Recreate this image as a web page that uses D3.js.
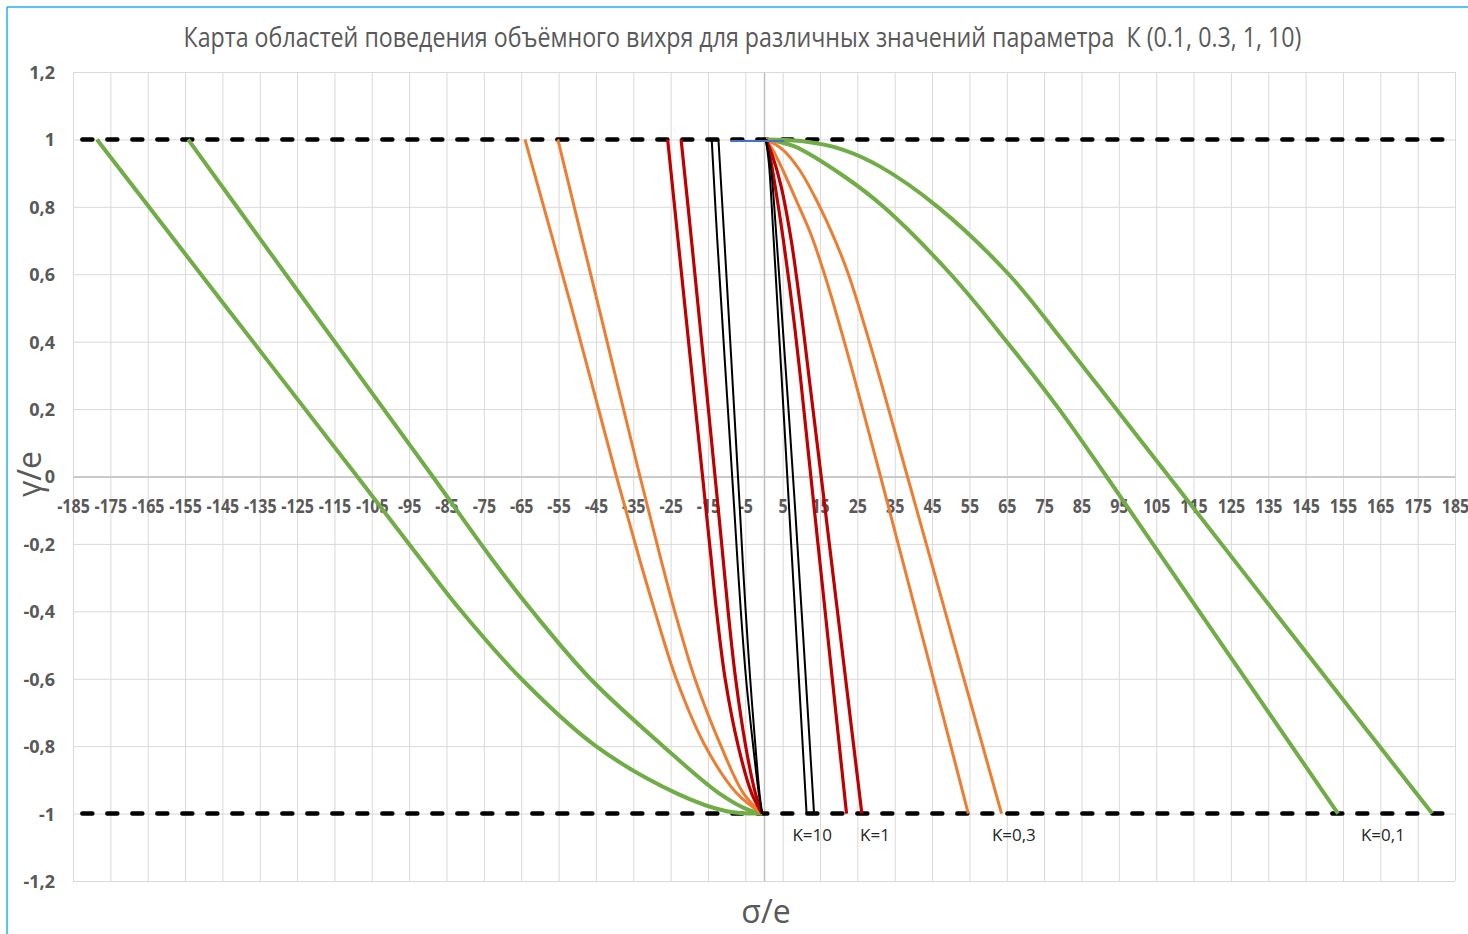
<!DOCTYPE html>
<html>
<head>
<meta charset="utf-8">
<script src="https://cdn.jsdelivr.net/npm/d3@7"></script>
<style>
	body { margin: 0; background: #ffffff; }
	svg { display: block; }
</style>
</head>
<body>
<div id="chart"></div>
<script>

// --- data ---
var xTicks = [-185,-175,-165,-155,-145,-135,-125,-115,-105,-95,-85,-75,-65,-55,-45,-35,-25,-15,-5,
	5,15,25,35,45,55,65,75,85,95,105,115,125,135,145,155,165,175,185];
var yTicks = [-1.2,-1,-0.8,-0.6,-0.4,-0.2,0,0.2,0.4,0.6,0.8,1,1.2];
var yTickLabels = ["-1,2","-1","-0,8","-0,6","-0,4","-0,2","0","0,2","0,4","0,6","0,8","1","1,2"];

// dashed limits gamma/e = 1 and -1
var limitLevels = [1, -1];
var limitFrom = -182.5;
var limitTo = 185;

// short blue segment on the upper limit
var blueSegment = [[-9, 0.995], [5.4, 0.995]];

// K = 0.1
var k01LeftOuter = [[-178.6,1],[-143.8,0.5],[-108.9,0],[-91.6,-0.25],[-81,-0.4],[-65,-0.6],[-45,-0.8],[-23.4,-0.94],[-10,-0.993],[-0.5,-1]];
var k01LeftInner = [[-154.2,1],[-121.5,0.5],[-88.7,0],[-72.5,-0.25],[-62,-0.4],[-46.5,-0.6],[-27,-0.8],[-12,-0.94],[-4,-0.99],[-0.5,-1]];
var k01RightInner = [[0.5,1],[8,0.98],[21.5,0.89],[32,0.8],[50,0.6],[65,0.4],[79,0.2],[91.7,0],[122.7,-0.5],[153.7,-1]];
var k01RightOuter = [[0.5,1],[10,0.995],[21,0.97],[31,0.92],[46.5,0.8],[65.5,0.6],[80.2,0.4],[94.3,0.2],[108.4,0],[143.6,-0.5],[178.9,-1]];

// K = 0.3
var k03LeftOuter = [[-64,1],[-51.5,0.5],[-39.5,0],[-33.2,-0.25],[-29.2,-0.4],[-23.5,-0.6],[-15.7,-0.8],[-7.3,-0.94],[-0.5,-1]];
var k03LeftInner = [[-55.2,1],[-44.2,0.5],[-33.2,0],[-27.5,-0.25],[-23.9,-0.4],[-18.5,-0.6],[-11.5,-0.8],[-5.5,-0.94],[-0.5,-1]];
var k03RightInner = [[0.5,1],[2.3,0.97],[5,0.91],[9,0.81],[12.5,0.72],[16.2,0.6],[21.5,0.4],[31.2,0],[43,-0.5],[54.7,-1]];
var k03RightOuter = [[0.5,1],[5,0.97],[9.5,0.91],[14.5,0.81],[18.3,0.72],[22.6,0.6],[28.2,0.4],[38.4,0],[51,-0.5],[63.6,-1]];

// K = 1
var k1LeftOuter = [[-25.8,1],[-23,0.7],[-15.6,-0.09],[-14.1,-0.25],[-12.7,-0.4],[-10.4,-0.6],[-6.9,-0.8],[-3.3,-0.94],[-0.5,-1]];
var k1LeftInner = [[-22.2,1],[-19.4,0.7],[-12.3,-0.09],[-10.9,-0.25],[-9.6,-0.4],[-7.6,-0.6],[-4.9,-0.8],[-2.3,-0.94],[-0.5,-1]];
var k1RightInner = [[0.5,1],[1.6,0.95],[3,0.86],[5.2,0.7],[7.6,0.5],[9.7,0.3],[13.4,-0.09],[17.8,-0.55],[22.1,-1]];
var k1RightOuter = [[0.5,1],[2.3,0.95],[4.6,0.86],[7.3,0.7],[9.8,0.5],[12,0.3],[16.3,-0.09],[21.3,-0.55],[26.2,-1]];

// K = 10
var k10LeftOuter = [[-14,1],[-12.5,0.7],[-8,-0.09],[-7.1,-0.25],[-6.2,-0.4],[-4.8,-0.6],[-2.9,-0.8],[-1.4,-0.94],[-0.5,-1]];
var k10LeftInner = [[-12.2,1],[-10.6,0.7],[-6.5,-0.09],[-5.7,-0.25],[-4.9,-0.4],[-3.7,-0.6],[-2.3,-0.8],[-1.2,-0.94],[-0.5,-1]];
var k10RightInner = [[0.5,1],[1.3,0.93],[2.6,0.7],[6.7,-0.09],[11.4,-1]];
var k10RightOuter = [[0.5,1],[1.7,0.93],[3.4,0.7],[8.3,-0.09],[13.4,-1]];

var kNames = ["K=10", "K=1", "K=0,3", "K=0,1"];
var kLabelAt = [12.9, 29.7, 66.9, 165.7];

// --- styles ---
var kColors = { "K=10": "#000000", "K=1": "#c00000", "K=0,3": "#ed7d31", "K=0,1": "#70ad47" };
var kWidths = { "K=10": 2, "K=1": 3.2, "K=0,3": 3, "K=0,1": 4 };

var series = [
	{ k: "K=0,1", pts: k01LeftOuter }, { k: "K=0,1", pts: k01LeftInner },
	{ k: "K=0,1", pts: k01RightInner }, { k: "K=0,1", pts: k01RightOuter },
	{ k: "K=0,3", pts: k03LeftOuter }, { k: "K=0,3", pts: k03LeftInner },
	{ k: "K=0,3", pts: k03RightInner }, { k: "K=0,3", pts: k03RightOuter },
	{ k: "K=1", pts: k1LeftOuter }, { k: "K=1", pts: k1LeftInner },
	{ k: "K=1", pts: k1RightInner }, { k: "K=1", pts: k1RightOuter },
	{ k: "K=10", pts: k10LeftOuter }, { k: "K=10", pts: k10LeftInner },
	{ k: "K=10", pts: k10RightInner }, { k: "K=10", pts: k10RightOuter }
];

var W = 1468, H = 934;
var plotLeft = 73, plotRight = 1455, plotTop = 72, plotBottom = 881;
var textGray = "#595959";
var font = "'Open Sans', 'Liberation Sans', sans-serif";

var x = d3.scaleLinear().domain([-185, 185]).range([plotLeft, plotRight]);
var y = d3.scaleLinear().domain([-1.2, 1.2]).range([plotBottom, plotTop]);

var svg = d3.select("#chart").append("svg")
	.attr("width", W)
	.attr("height", H)
	.style("font-family", font);

svg.append("rect").attr("width", W).attr("height", H).attr("fill", "#ffffff");

// frame of the chart (only top and left show in the shot)
svg.append("line").attr("x1", 7).attr("y1", 7).attr("x2", W).attr("y2", 7)
	.attr("stroke", "#1fb0ec").attr("stroke-width", 1.5);
svg.append("line").attr("x1", 7).attr("y1", 7).attr("x2", 7).attr("y2", H)
	.attr("stroke", "#1fb0ec").attr("stroke-width", 1.5);

// title (narrowed to match the condensed original face)
svg.append("text")
	.attr("transform", "translate(742.5,47) scale(0.829,1)")
	.attr("text-anchor", "middle")
	.attr("font-size", 28)
	.attr("fill", textGray)
	.style("white-space", "pre")
	.text("Карта областей поведения объёмного вихря для различных значений параметра  К (0.1, 0.3, 1, 10)");

// grid
var gx = svg.append("g").attr("transform", "translate(0," + plotBottom + ")")
	.call(d3.axisBottom(x).tickValues(xTicks).tickSize(-(plotBottom - plotTop)).tickFormat(""));
gx.select(".domain").remove();
gx.selectAll("line").attr("stroke", "#d9d9d9").attr("stroke-width", 1);

var gy = svg.append("g").attr("transform", "translate(" + plotLeft + ",0)")
	.call(d3.axisLeft(y).tickValues(yTicks).tickSize(-(plotRight - plotLeft)).tickFormat(""));
gy.select(".domain").remove();
gy.selectAll("line").attr("stroke", "#d9d9d9").attr("stroke-width", 1);

// vertical axis line through zero
var vAxis = svg.append("g").attr("transform", "translate(" + x(0) + ",0)")
	.call(d3.axisLeft(y).tickValues([]).tickSizeOuter(0));
vAxis.select(".domain").attr("stroke", "#bfbfbf").attr("stroke-width", 1.5);

// y tick labels at the left
var yLab = svg.append("g").attr("transform", "translate(" + plotLeft + ",0)")
	.call(d3.axisLeft(y).tickValues(yTicks).tickSize(0).tickPadding(18)
		.tickFormat(function(d, i){ return yTickLabels[i]; }));
yLab.select(".domain").remove();
yLab.selectAll("text")
	.attr("font-family", font)
	.attr("font-size", 18)
	.attr("font-weight", "bold")
	.attr("fill", textGray)
	.attr("dy", "0.36em");

// horizontal axis through zero, labels below it
var xAxis = svg.append("g").attr("transform", "translate(0," + y(0) + ")")
	.call(d3.axisBottom(x).tickValues(xTicks).tickSize(0).tickSizeOuter(0)
		.tickFormat(function(d){ return d; }));
xAxis.select(".domain").attr("stroke", "#bfbfbf").attr("stroke-width", 1.5);
xAxis.selectAll("text")
	.attr("font-family", font)
	.attr("font-size", 20)
	.attr("font-weight", "bold")
	.attr("fill", textGray)
	.attr("y", 37)
	.attr("dy", 0)
	.attr("transform", "scale(0.8,1)");

// dashed limits
svg.append("g").selectAll("line")
	.data(limitLevels)
	.enter().append("line")
	.attr("x1", x(limitFrom))
	.attr("x2", x(limitTo))
	.attr("y1", function(d){ return y(d); })
	.attr("y2", function(d){ return y(d); })
	.attr("stroke", "#000000")
	.attr("stroke-width", 4.5)
	.attr("stroke-linecap", "round")
	.attr("stroke-dasharray", "10,15");

var line = d3.line()
	.x(function(d){ return x(d[0]); })
	.y(function(d){ return y(d[1]); })
	.curve(d3.curveCatmullRom.alpha(0.5));

svg.append("g").selectAll("path")
	.data(series)
	.enter().append("path")
	.attr("d", function(d){ return line(d.pts); })
	.attr("fill", "none")
	.attr("stroke", function(d){ return kColors[d.k]; })
	.attr("stroke-width", function(d){ return kWidths[d.k]; })
	.attr("stroke-linejoin", "round");

svg.append("path")
	.attr("d", d3.line().x(function(d){ return x(d[0]); }).y(function(d){ return y(d[1]); })(blueSegment))
	.attr("stroke", "#4472c4")
	.attr("stroke-width", 2)
	.attr("fill", "none");

// K labels under the lower limit
svg.append("g").selectAll("text")
	.data(kNames)
	.enter().append("text")
	.attr("x", function(d, i){ return x(kLabelAt[i]); })
	.attr("y", y(-1) + 27)
	.attr("text-anchor", "middle")
	.attr("font-size", 17)
	.attr("fill", "#262626")
	.text(function(d){ return d; });

// axis titles
svg.append("text")
	.attr("x", x(0) + 2)
	.attr("y", 923)
	.attr("text-anchor", "middle")
	.attr("font-size", 32)
	.attr("fill", textGray)
	.text("σ/e");

svg.append("text")
	.attr("transform", "translate(41,474) rotate(-90)")
	.attr("text-anchor", "middle")
	.attr("font-size", 32)
	.attr("fill", textGray)
	.text("γ/e");

</script>
</body>
</html>
